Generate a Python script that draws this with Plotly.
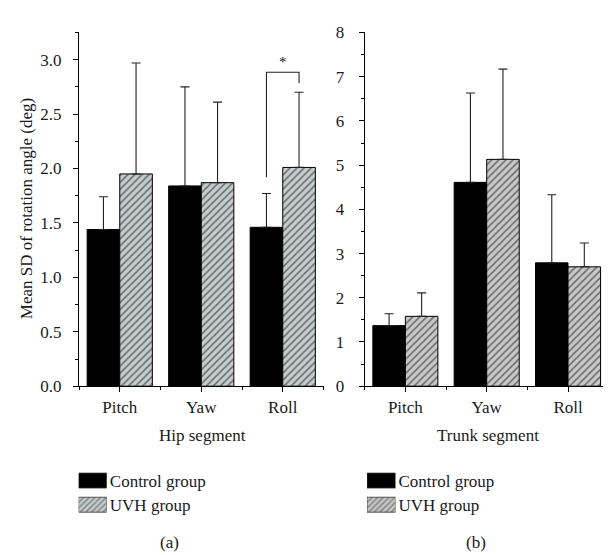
import plotly.graph_objects as go

# ---------------- data ----------------
categories = ["Pitch", "Yaw", "Roll"]
groups = ["Control group", "UVH group"]

hip_control_mean = [1.44, 1.84, 1.46]
hip_control_sd = [0.30, 0.91, 0.31]
hip_uvh_mean = [1.95, 1.87, 2.01]
hip_uvh_sd = [1.02, 0.74, 0.69]

trunk_control_mean = [1.37, 4.61, 2.79]
trunk_control_sd = [0.27, 2.02, 1.54]
trunk_uvh_mean = [1.58, 5.13, 2.70]
trunk_uvh_sd = [0.53, 2.04, 0.54]

hip_yticks = [0.0, 0.5, 1.0, 1.5, 2.0, 2.5, 3.0]
trunk_yticks = [0, 1, 2, 3, 4, 5, 6, 7, 8]

y_title = "Mean SD of rotation angle (deg)"
x_titles = ["Hip segment", "Trunk segment"]
panel_labels = ["(a)", "(b)"]
sig_label = "*"
sig_category = "Roll"

# ---------------- style ----------------
FONT = "Liberation Serif"
FS = 17
TXT = "#1a1a1a"
W, H = 611, 555
HATCH_L = "#c5cdcd"
HATCH_R = "#c8c8c8"


def px_x(p):
    return p / W


def px_y(p):
    return 1 - p / H


xpos = list(range(len(categories)))
fig = go.Figure()


def add_panel(xa, ya, ctrl_m, ctrl_sd, uvh_m, uvh_sd, hatch):
    err = dict(type="data", symmetric=False, arrayminus=[0] * len(xpos),
               color="#222222", thickness=1.1, width=4.5)
    fig.add_trace(go.Bar(
        x=xpos, y=ctrl_m, name=groups[0], xaxis=xa, yaxis=ya,
        marker=dict(color="black", line=dict(color="black", width=1)),
        error_y=dict(err, array=ctrl_sd), showlegend=False))
    fig.add_trace(go.Bar(
        x=xpos, y=uvh_m, name=groups[1], xaxis=xa, yaxis=ya,
        marker=dict(color=hatch, line=dict(color="black", width=1),
                    pattern=dict(shape="/", fgcolor="#111111", bgcolor=hatch,
                                 size=5, solidity=0.34)),
        error_y=dict(err, array=uvh_sd), showlegend=False))


add_panel("x", "y", hip_control_mean, hip_control_sd, hip_uvh_mean, hip_uvh_sd, HATCH_L)
add_panel("x2", "y2", trunk_control_mean, trunk_control_sd, trunk_uvh_mean, trunk_uvh_sd, HATCH_R)

# legend swatches (auxiliary axes)
for xa, ya, hatch in (("x3", "y3", HATCH_L), ("x4", "y4", HATCH_R)):
    fig.add_trace(go.Bar(
        y=groups, x=[1] * len(groups), orientation="h", xaxis=xa, yaxis=ya,
        width=0.62, showlegend=False, hoverinfo="skip",
        marker=dict(color=["black", hatch], line=dict(color="#333333", width=0.8),
                    pattern=dict(shape=["", "/"], fgcolor="#111111",
                                 size=4, solidity=0.4))))

tickfont = dict(family=FONT, size=FS, color=TXT)
ydom = [px_y(382.3), px_y(16)]

common_x = dict(
    range=[-0.5, len(categories) - 0.5], tickvals=xpos, ticktext=categories,
    showline=True, linecolor="black", linewidth=1.2, ticks="outside",
    ticklen=5, tickcolor="black", tickwidth=1, showgrid=False, zeroline=False,
    tickfont=tickfont, ticklabelstandoff=0,
    minor=dict(dtick=0.5, tick0=0.5, ticks="outside", ticklen=3,
               tickcolor="black", tickwidth=1, showgrid=False),
    fixedrange=True,
)
common_y = dict(
    showline=True, linecolor="black", linewidth=1.2, ticks="outside",
    ticklen=5, tickcolor="black", tickwidth=1, showgrid=False, zeroline=False,
    tickfont=tickfont, ticklabelstandoff=8, fixedrange=True,
)

fig.update_layout(
    width=W, height=H,
    margin=dict(l=0, r=0, t=0, b=0),
    paper_bgcolor="white", plot_bgcolor="white",
    barmode="group", bargap=0.2, bargroupgap=0,
    showlegend=False,
    font=dict(family=FONT, size=FS, color=TXT),
    xaxis=dict(common_x, domain=[px_x(71), px_x(315.5)], anchor="y"),
    yaxis=dict(common_y, domain=ydom, anchor="x", range=[0, 3.25],
               tickvals=hip_yticks, ticktext=[f"{v:.1f}" for v in hip_yticks],
               minor=dict(dtick=0.25, ticks="outside", ticklen=3,
                          tickcolor="black", tickwidth=1, showgrid=False)),
    xaxis2=dict(common_x, domain=[px_x(356.7), px_x(600.7)], anchor="y2"),
    yaxis2=dict(common_y, domain=ydom, anchor="x2", range=[0, 8],
                tickvals=trunk_yticks, ticktext=[str(v) for v in trunk_yticks],
                ticklabelstandoff=11,
                minor=dict(dtick=0.5, ticks="outside", ticklen=3,
                           tickcolor="black", tickwidth=1, showgrid=False)),
    xaxis3=dict(domain=[px_x(70.6), px_x(98.8)], range=[0, 1], visible=False,
                anchor="y3", fixedrange=True),
    yaxis3=dict(domain=[px_y(517.5), px_y(467.5)], range=[1.5, -0.5],
                anchor="x3", side="right", showline=False, ticks="",
                showgrid=False, zeroline=False, tickfont=tickfont,
                ticklabelstandoff=2, fixedrange=True),
    xaxis4=dict(domain=[px_x(359), px_x(387.5)], range=[0, 1], visible=False,
                anchor="y4", fixedrange=True),
    yaxis4=dict(domain=[px_y(517.5), px_y(467.5)], range=[1.5, -0.5],
                anchor="x4", side="right", showline=False, ticks="",
                showgrid=False, zeroline=False, tickfont=tickfont,
                ticklabelstandoff=2, fixedrange=True),
)

# significance bracket on hip Roll
k = categories.index(sig_category)
xl, xr = k - 0.2, k + 0.2
y_left = hip_control_mean[k] + hip_control_sd[k] + 0.15
y_right = hip_uvh_mean[k] + hip_uvh_sd[k] + 0.085
y_top = y_right + 0.10
fig.add_shape(type="path", xref="x", yref="y",
              path=f"M {xl} {y_left} L {xl} {y_top} L {xr} {y_top} L {xr} {y_right}",
              line=dict(color="#222222", width=1.1))
fig.add_annotation(x=k, y=y_top, xref="x", yref="y", text=sig_label,
                   showarrow=False, xanchor="center", yanchor="bottom", yshift=0,
                   font=dict(family=FONT, size=15, color=TXT))

# titles and panel labels
fig.add_annotation(x=px_x(18), y=px_y(199), xref="paper", yref="paper",
                   text=y_title, textangle=-90, showarrow=False,
                   xanchor="center", yanchor="middle",
                   font=dict(family=FONT, size=FS, color=TXT))
for cx, t, lab, lx in ((px_x(194.5), x_titles[0], panel_labels[0], px_x(161)),
                       (px_x(479.5), x_titles[1], panel_labels[1], px_x(467.5))):
    fig.add_annotation(x=cx, y=px_y(433), xref="paper", yref="paper", text=t,
                       showarrow=False, xanchor="center", yanchor="middle",
                       font=dict(family=FONT, size=FS, color=TXT))
    fig.add_annotation(x=lx, y=px_y(544), xref="paper", yref="paper", text=lab,
                       showarrow=False, xanchor="center", yanchor="middle",
                       font=dict(family=FONT, size=FS, color=TXT))

fig.write_html("out.html")
